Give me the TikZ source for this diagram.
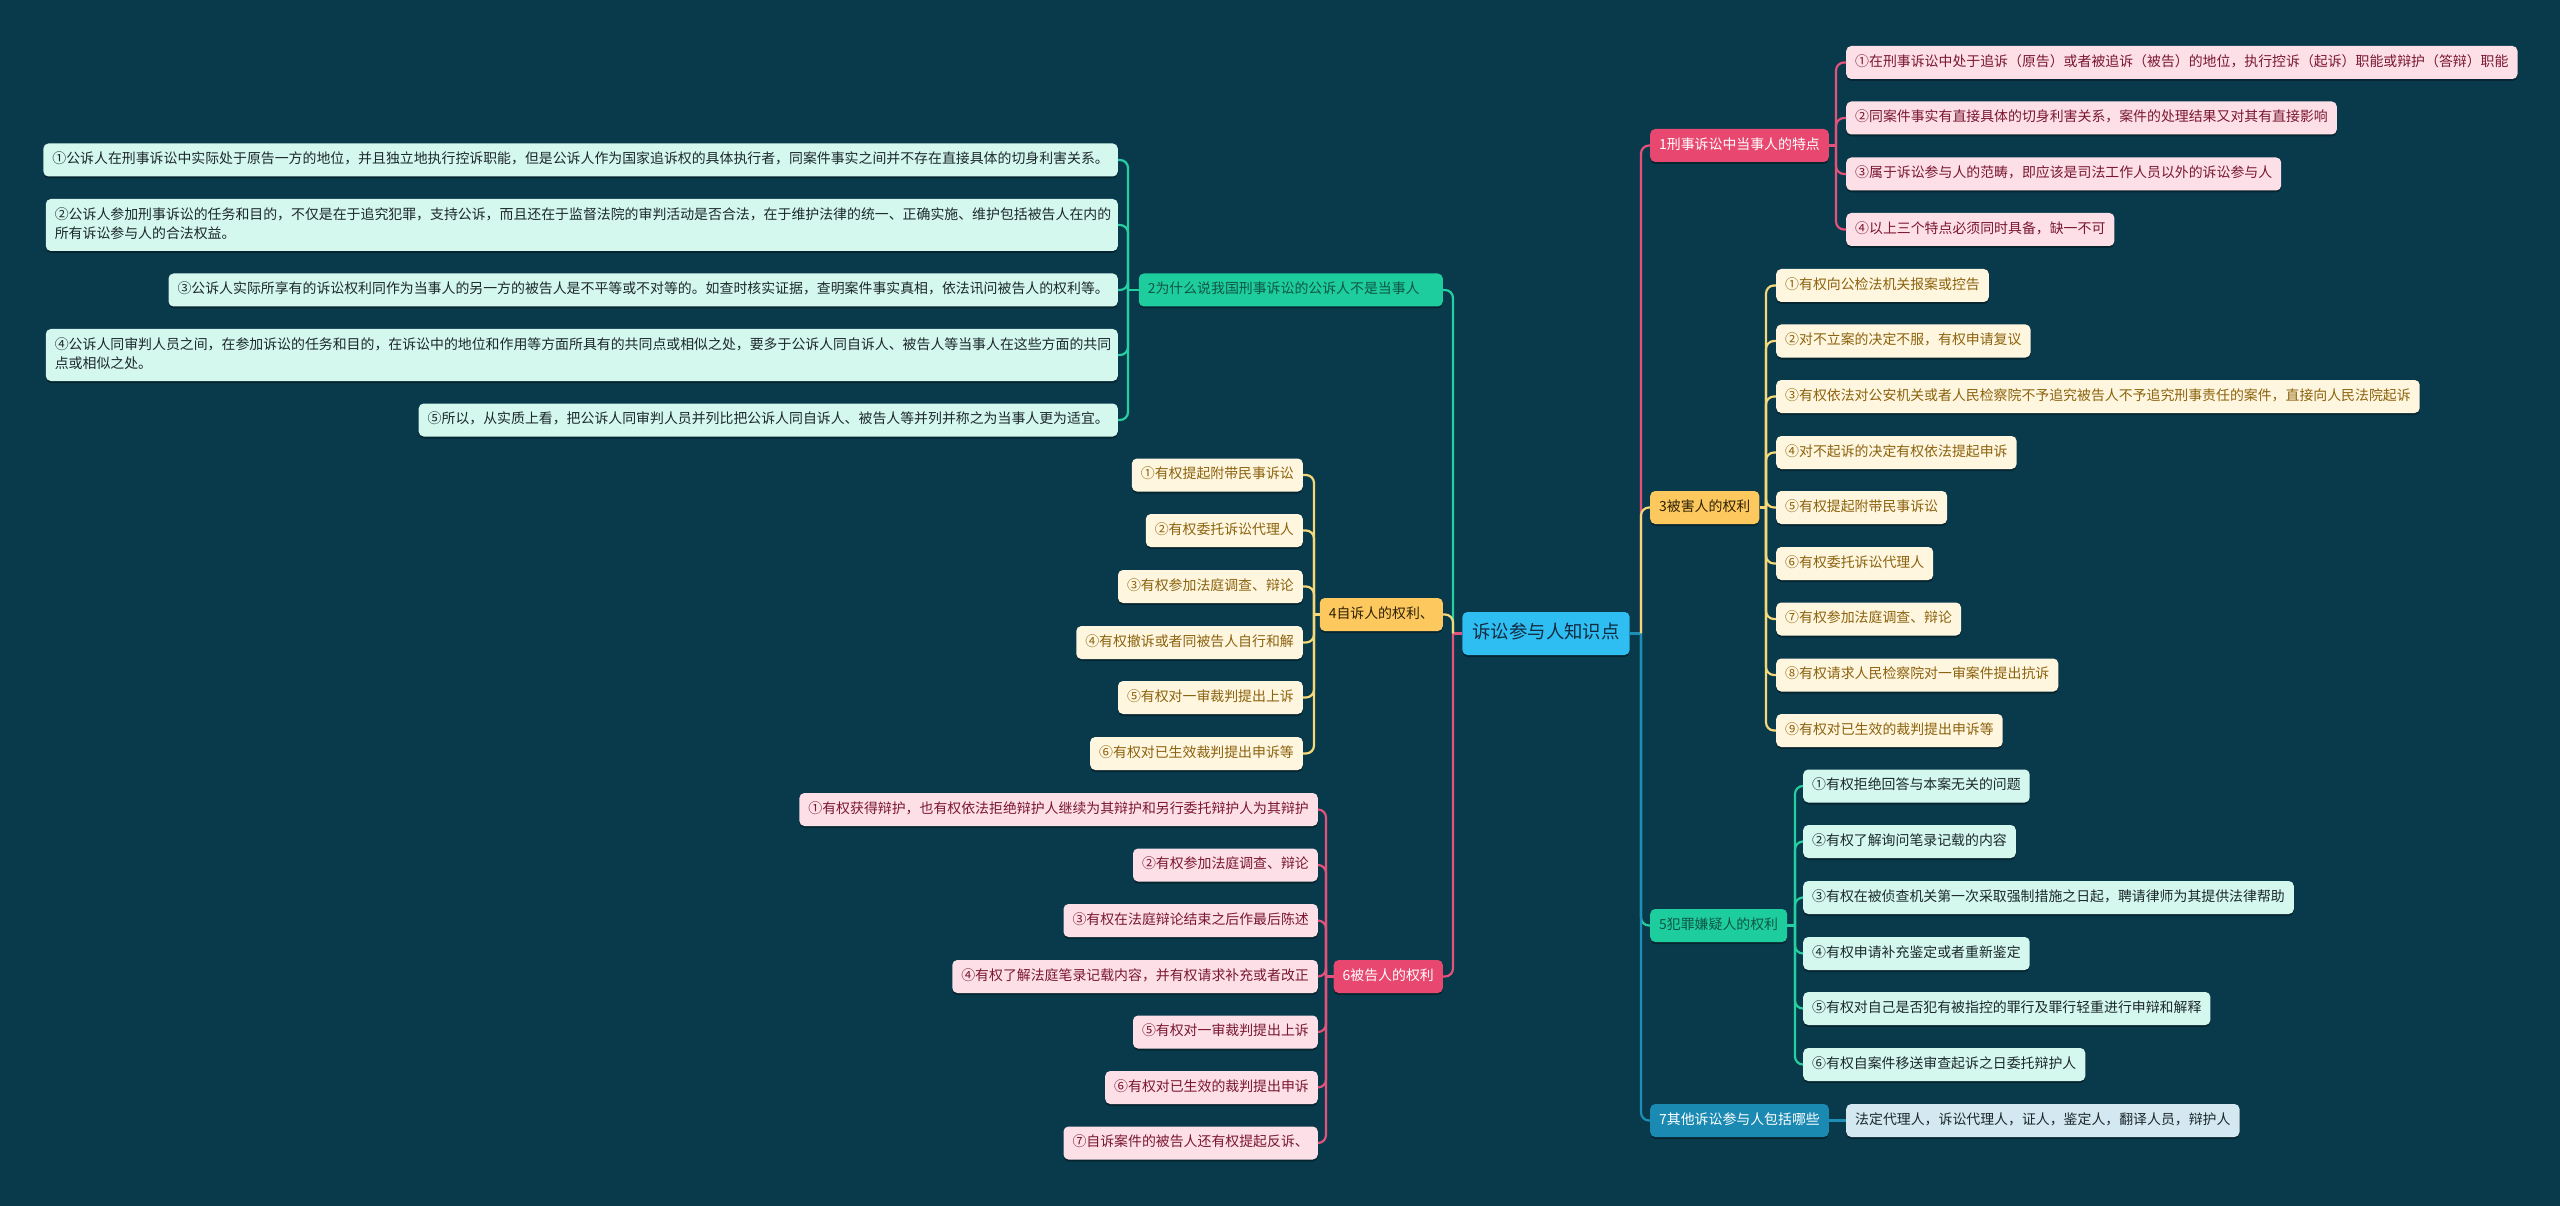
\documentclass[tikz,border=0pt]{standalone}
\usepackage{fontspec}
\newfontfamily\cjk{Noto Sans CJK SC}
\usetikzlibrary{positioning, shadows}

\definecolor{bgcol}{RGB}{8,58,76}
\definecolor{rootfill}{RGB}{47,190,242}
\definecolor{roottext}{RGB}{16,44,66}
\definecolor{pinkfill}{RGB}{232,72,111}
\definecolor{pinkleaf}{RGB}{253,224,231}
\definecolor{pinktext}{RGB}{122,22,50}
\definecolor{pinkln}{RGB}{226,82,122}
\definecolor{yellowfill}{RGB}{253,201,94}
\definecolor{yellowleaf}{RGB}{254,246,222}
\definecolor{yellowtext}{RGB}{140,98,14}
\definecolor{yellowln}{RGB}{247,216,120}
\definecolor{greenfill}{RGB}{30,205,158}
\definecolor{greenleaf}{RGB}{212,247,238}
\definecolor{greentext}{RGB}{14,86,69}
\definecolor{greenln}{RGB}{38,207,160}
\definecolor{bluefill}{RGB}{27,138,179}
\definecolor{blueleaf}{RGB}{211,232,241}
\definecolor{blueln}{RGB}{29,143,183}
\definecolor{leafdark}{RGB}{28,40,44}
\definecolor{branchdark}{RGB}{45,32,6}

\begin{document}
\begin{tikzpicture}[
    x=1pt, y=-1pt,
    box/.style={rounded corners=5pt, inner xsep=9pt, inner ysep=9.5pt,
        text height=10.6pt, text depth=3.4pt,
        font=\cjk\fontsize{13.9}{19}\selectfont,
        drop shadow={shadow xshift=0pt, shadow yshift=-2pt, opacity=.35, fill=black}},
    twoline/.style={align=left, text width=1054pt, text depth=22.4pt},
    rootbox/.style={box, fill=rootfill, text=roottext, inner xsep=10pt, inner ysep=12.5pt,
        text height=13.6pt, text depth=4.4pt, font=\cjk\fontsize{18.4}{22}\selectfont},
    pinkbr/.style={box, fill=pinkfill, text=white},
    yellowbr/.style={box, fill=yellowfill, text=branchdark},
    greenbr/.style={box, fill=greenfill, text=greentext},
    bluebr/.style={box, fill=bluefill, text=white},
    pinkbox/.style={box, fill=pinkleaf, text=pinktext},
    yellowbox/.style={box, fill=yellowleaf, text=yellowtext},
    greenbox/.style={box, fill=greenleaf, text=leafdark},
    bluebox/.style={box, fill=blueleaf, text=leafdark},
    link/.style={line width=2.2pt, rounded corners=8pt},
    pinklink/.style={link, draw=pinkln},
    yellowlink/.style={link, draw=yellowln},
    greenlink/.style={link, draw=greenln},
    bluelink/.style={link, draw=blueln}
]

% Background and page size
\fill[bgcol] (0,0) rectangle (2560,1206);
\useasboundingbox (0,0) rectangle (2560,1206);

% Central topic
\node[rootbox] (root) at (1546,633.5) {诉讼参与人知识点};
\coordinate (rs) at (1641,633.5);
\coordinate (ls) at (1453,633.5);

% Main branches, right
\node[pinkbr, anchor=west] (tedian) at (1650,145.5) {1刑事诉讼中当事人的特点};
\node[yellowbr, anchor=west] (beihai) at (1650,507.5) {3被害人的权利};
\node[greenbr, anchor=west] (xianyi) at (1650,925.5) {5犯罪嫌疑人的权利};
\node[bluebr, anchor=west] (qita) at (1650,1120.5) {7其他诉讼参与人包括哪些};

% Main branches, left
\node[greenbr, anchor=east, text width=286pt, align=left] (gongsu) at (1443,290) {2为什么说我国刑事诉讼的公诉人不是当事人};
\node[yellowbr, anchor=east] (zisu) at (1443,614.5) {4自诉人的权利、};
\node[pinkbr, anchor=east] (beigao) at (1443,976.5) {6被告人的权利};

% Leaves of branch 1
\node[pinkbox, anchor=west] (td1) at (1846,62.5) {①在刑事诉讼中处于追诉（原告）或者被追诉（被告）的地位，执行控诉（起诉）职能或辩护（答辩）职能};
\node[pinkbox, anchor=west] (td2) at (1846,118) {②同案件事实有直接具体的切身利害关系，案件的处理结果又对其有直接影响};
\node[pinkbox, anchor=west] (td3) at (1846,174) {③属于诉讼参与人的范畴，即应该是司法工作人员以外的诉讼参与人};
\node[pinkbox, anchor=west] (td4) at (1846,229.5) {④以上三个特点必须同时具备，缺一不可};
\coordinate (tdS) at (1836,145.5);

% Leaves of branch 3
\node[yellowbox, anchor=west] (bh1) at (1776,285.5) {①有权向公检法机关报案或控告};
\node[yellowbox, anchor=west] (bh2) at (1776,341) {②对不立案的决定不服，有权申请复议};
\node[yellowbox, anchor=west] (bh3) at (1776,396.5) {③有权依法对公安机关或者人民检察院不予追究被告人不予追究刑事责任的案件，直接向人民法院起诉};
\node[yellowbox, anchor=west] (bh4) at (1776,452.5) {④对不起诉的决定有权依法提起申诉};
\node[yellowbox, anchor=west] (bh5) at (1776,507.5) {⑤有权提起附带民事诉讼};
\node[yellowbox, anchor=west] (bh6) at (1776,563.5) {⑥有权委托诉讼代理人};
\node[yellowbox, anchor=west] (bh7) at (1776,619) {⑦有权参加法庭调查、辩论};
\node[yellowbox, anchor=west] (bh8) at (1776,675) {⑧有权请求人民检察院对一审案件提出抗诉};
\node[yellowbox, anchor=west] (bh9) at (1776,730.5) {⑨有权对已生效的裁判提出申诉等};
\coordinate (bhS) at (1766,507.5);

% Leaves of branch 5
\node[greenbox, anchor=west] (xy1) at (1803,786) {①有权拒绝回答与本案无关的问题};
\node[greenbox, anchor=west] (xy2) at (1803,841.5) {②有权了解询问笔录记载的内容};
\node[greenbox, anchor=west] (xy3) at (1803,897.5) {③有权在被侦查机关第一次采取强制措施之日起，聘请律师为其提供法律帮助};
\node[greenbox, anchor=west] (xy4) at (1803,953.5) {④有权申请补充鉴定或者重新鉴定};
\node[greenbox, anchor=west] (xy5) at (1803,1008.5) {⑤有权对自己是否犯有被指控的罪行及罪行轻重进行申辩和解释};
\node[greenbox, anchor=west] (xy6) at (1803,1064.5) {⑥有权自案件移送审查起诉之日委托辩护人};
\coordinate (xyS) at (1795,925.5);

% Leaf of branch 7
\node[bluebox, anchor=west] (qt1) at (1846,1120.5) {法定代理人，诉讼代理人，证人，鉴定人，翻译人员，辩护人};

% Leaves of branch 2
\node[greenbox, anchor=east] (gs1) at (1118,160) {①公诉人在刑事诉讼中实际处于原告一方的地位，并且独立地执行控诉职能，但是公诉人作为国家追诉权的具体执行者，同案件事实之间并不存在直接具体的切身利害关系。};
\node[greenbox, twoline, anchor=east] (gs2) at (1118,225) {②公诉人参加刑事诉讼的任务和目的，不仅是在于追究犯罪，支持公诉，而且还在于监督法院的审判活动是否合法，在于维护法律的统一、正确实施、维护包括被告人在内的\\所有诉讼参与人的合法权益。};
\node[greenbox, anchor=east] (gs3) at (1118,290) {③公诉人实际所享有的诉讼权利同作为当事人的另一方的被告人是不平等或不对等的。如查时核实证据，查明案件事实真相，依法讯问被告人的权利等。};
\node[greenbox, twoline, anchor=east] (gs4) at (1118,355) {④公诉人同审判人员之间，在参加诉讼的任务和目的，在诉讼中的地位和作用等方面所具有的共同点或相似之处，要多于公诉人同自诉人、被告人等当事人在这些方面的共同\\点或相似之处。};
\node[greenbox, anchor=east] (gs5) at (1118,420) {⑤所以，从实质上看，把公诉人同审判人员并列比把公诉人同自诉人、被告人等并列并称之为当事人更为适宜。};
\coordinate (gsS) at (1128,290);

% Leaves of branch 4
\node[yellowbox, anchor=east] (zs1) at (1303,475) {①有权提起附带民事诉讼};
\node[yellowbox, anchor=east] (zs2) at (1303,530.5) {②有权委托诉讼代理人};
\node[yellowbox, anchor=east] (zs3) at (1303,586.5) {③有权参加法庭调查、辩论};
\node[yellowbox, anchor=east] (zs4) at (1303,642.5) {④有权撤诉或者同被告人自行和解};
\node[yellowbox, anchor=east] (zs5) at (1303,697.5) {⑤有权对一审裁判提出上诉};
\node[yellowbox, anchor=east] (zs6) at (1303,753.5) {⑥有权对已生效裁判提出申诉等};
\coordinate (zsS) at (1314,614.5);

% Leaves of branch 6
\node[pinkbox, anchor=east] (bg1) at (1318,809.5) {①有权获得辩护，也有权依法拒绝辩护人继续为其辩护和另行委托辩护人为其辩护};
\node[pinkbox, anchor=east] (bg2) at (1318,865) {②有权参加法庭调查、辩论};
\node[pinkbox, anchor=east] (bg3) at (1318,920.5) {③有权在法庭辩论结束之后作最后陈述};
\node[pinkbox, anchor=east] (bg4) at (1318,976.5) {④有权了解法庭笔录记载内容，并有权请求补充或者改正};
\node[pinkbox, anchor=east] (bg5) at (1318,1032) {⑤有权对一审裁判提出上诉};
\node[pinkbox, anchor=east] (bg6) at (1318,1087.5) {⑥有权对已生效的裁判提出申诉};
\node[pinkbox, anchor=east] (bg7) at (1318,1143) {⑦自诉案件的被告人还有权提起反诉、};
\coordinate (bgS) at (1326,976.5);

% Connectors from the central topic
\draw[bluelink] (root.east) -- (rs);
\draw[pinklink] (root.west) -- (ls);
\draw[pinklink] (rs) |- (tedian.west);
\draw[yellowlink] (rs) |- (beihai.west);
\draw[greenlink] (rs) |- (xianyi.west);
\draw[bluelink] (rs) |- (qita.west);
\draw[greenlink] (ls) |- (gongsu.east);
\draw[yellowlink] (ls) |- (zisu.east);
\draw[pinklink] (ls) |- (beigao.east);

% Connectors to the leaves
\draw[pinklink] (tedian.east) -- (tdS);
\foreach \n in {td1,td2,td3,td4} \draw[pinklink] (tdS) |- (\n.west);
\draw[yellowlink] (beihai.east) -- (bhS);
\foreach \n in {bh1,bh2,bh3,bh4,bh5,bh6,bh7,bh8,bh9} \draw[yellowlink] (bhS) |- (\n.west);
\draw[greenlink] (xianyi.east) -- (xyS);
\foreach \n in {xy1,xy2,xy3,xy4,xy5,xy6} \draw[greenlink] (xyS) |- (\n.west);
\draw[bluelink] (qita.east) -- (qt1.west);
\draw[greenlink] (gongsu.west) -- (gsS);
\foreach \n in {gs1,gs2,gs3,gs4,gs5} \draw[greenlink] (gsS) |- (\n.east);
\draw[yellowlink] (zisu.west) -- (zsS);
\foreach \n in {zs1,zs2,zs3,zs4,zs5,zs6} \draw[yellowlink] (zsS) |- (\n.east);
\draw[pinklink] (beigao.west) -- (bgS);
\foreach \n in {bg1,bg2,bg3,bg4,bg5,bg6,bg7} \draw[pinklink] (bgS) |- (\n.east);

\end{tikzpicture}
\end{document}
